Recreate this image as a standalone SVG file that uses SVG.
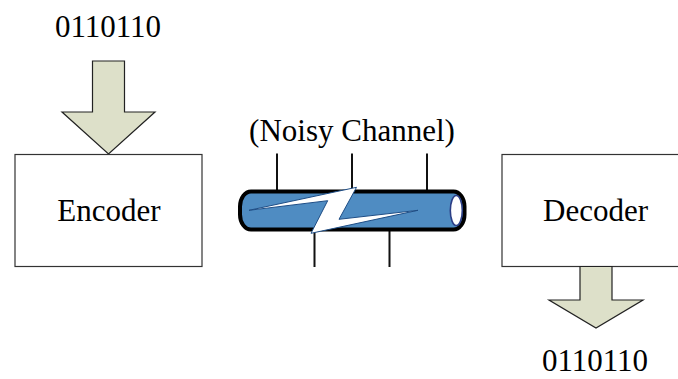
<svg xmlns="http://www.w3.org/2000/svg" width="678" height="379" viewBox="0 0 678 379">
<style>
text{font-family:"Liberation Serif","Times New Roman",serif;font-size:31px;fill:#000;text-anchor:middle}
.box{fill:#fff;stroke:#333;stroke-width:1.2}
.arrow{fill:#dde0c9;stroke:#222;stroke-width:1.2;stroke-linejoin:miter}
.wire{stroke:#111;stroke-width:2;fill:none}
</style>
<rect width="678" height="379" fill="#fff"/>
<g id="connectors">
<path class="wire" d="M277 153.500V191M352 153.500V191M427 153.500V191M314.500 230V267M389.500 230V267"/>
</g>
<g id="input-arrow"><polygon class="arrow" points="92.500,61 124.500,61 124.500,112 155,112 108.500,154 62,112 92.500,112"/></g>
<g id="input-label"><text x="108" y="37">0110110</text></g>
<g id="encoder"><rect class="box" x="15" y="154.500" width="187" height="112"/><text x="109" y="220.500">Encoder</text></g>
<g id="channel">
<text x="352" y="141">(Noisy Channel)</text>
<rect x="240" y="191.500" width="224.500" height="38" rx="11" ry="15" fill="#4f8cc2" stroke="#000" stroke-width="4"/>
<ellipse cx="456.300" cy="210.500" rx="6" ry="15" fill="#fff" stroke="#2c3e86" stroke-width="1.600"/>
<polygon points="249,210.300 356.500,187.300 339,219.300 418,210.300 311,233.300 327.700,200.700" fill="#fff" stroke="#1f4e86" stroke-width="1"/>
</g>
<g id="decoder"><rect class="box" x="502" y="154.500" width="190" height="112"/><text x="595.500" y="220.500">Decoder</text></g>
<g id="output-arrow"><polygon class="arrow" points="580,266.500 612,266.500 612,300 643,300 596,328 549,300 580,300"/></g>
<g id="output-label"><text x="595" y="371">0110110</text></g>
</svg>
